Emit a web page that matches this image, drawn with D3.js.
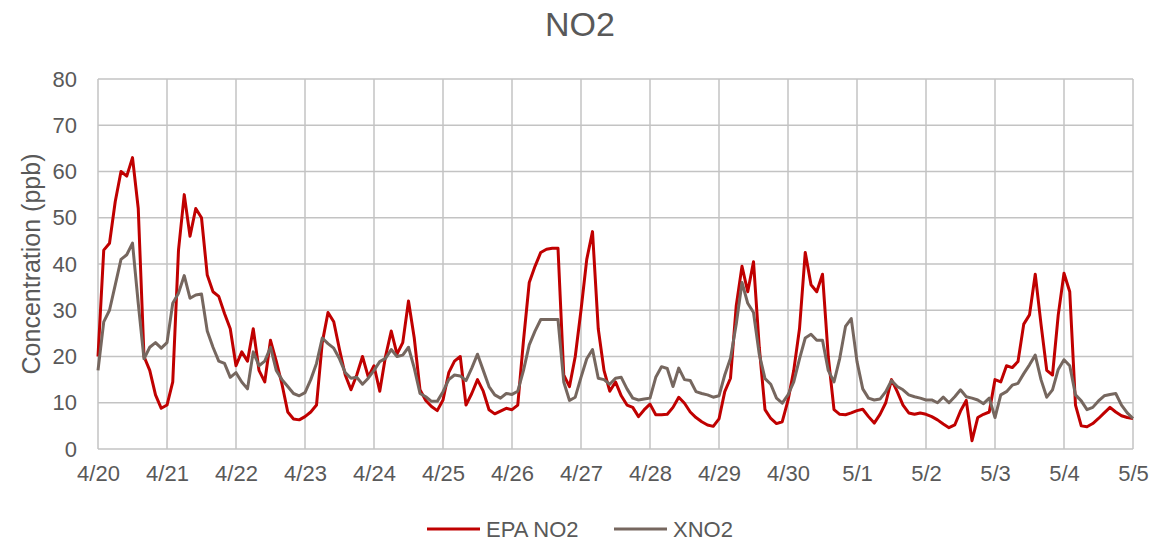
<!DOCTYPE html>
<html>
<head>
<meta charset="utf-8">
<script src="https://cdn.jsdelivr.net/npm/d3@7"></script>
<style>
  body { margin: 0; background: #fff; }
  svg text { font-family: "Liberation Sans", Arial, sans-serif; fill: #595959; }
</style>
</head>
<body>
<div id="chart"></div>
<script>
// day labels on the x axis (one every 24 h)
var dayLabels = ["4/20","4/21","4/22","4/23","4/24","4/25","4/26","4/27","4/28","4/29","4/30","5/1","5/2","5/3","5/4","5/5"];
var yTicks = [0,10,20,30,40,50,60,70,80];
var stepHours = 2; // readings every 2 hours from 4/20 00:00

// EPA NO2 (ppb)
var epaNO2 = [
  20, 43, 44.5, 53.5, 60, 59, 63, 52, 20, 17, 11.7, 8.8,
  9.5, 14.5, 43, 55, 46, 52, 50, 37.6, 34, 33, 29.3, 26,
  18, 21, 19, 26, 17, 14.5, 23.5, 19, 14, 8, 6.5, 6.3,
  7, 8, 9.5, 23, 29.5, 27.5, 21.5, 16, 12.8, 16, 20, 15.6,
  18, 12.5, 20, 25.5, 20.5, 23, 32, 24, 12.8, 10.5, 9.2, 8.3,
  10.6, 16.5, 19, 20, 9.5, 12, 15, 12.5, 8.5, 7.6, 8.2, 8.8,
  8.5, 9.5, 23.5, 36, 39.5, 42.5, 43.2, 43.4, 43.4, 16, 13.5, 20,
  30, 41, 47, 26, 17, 12.5, 14.5, 11.5, 9.5, 9, 7, 8.5,
  9.7, 7.4, 7.4, 7.5, 9, 11.2, 9.9, 8, 6.8, 5.9, 5.2, 4.9,
  6.5, 12.4, 15.3, 31, 39.5, 34, 40.5, 22, 8.5, 6.6, 5.5, 5.9,
  10.5, 17, 26, 42.5, 35.5, 34, 37.8, 20, 8.5, 7.5, 7.4, 7.8,
  8.3, 8.6, 7, 5.6, 7.5, 10, 15, 12.4, 9.5, 7.8, 7.5, 7.8,
  7.5, 7, 6.3, 5.4, 4.6, 5.2, 8.2, 10.5, 1.8, 6.8, 7.5, 8,
  15, 14.5, 18, 17.6, 18.9, 27, 29, 37.8, 27, 17, 16, 29,
  38, 34, 9.5, 5, 4.8, 5.5, 6.6, 7.8, 9, 8, 7.2, 6.8,
  6.6
];

// XNO2 (ppb)
var xNO2 = [
  17, 27.5, 30, 35.5, 41, 42, 44.5, 31.5, 19.5, 22, 23, 21.8,
  23, 31.5, 33.7, 37.5, 32.6, 33.3, 33.5, 25.5, 22, 19, 18.5, 15.5,
  16.5, 14.5, 13, 21, 18, 19, 22, 17, 15, 13.5, 12, 11.5,
  12.2, 15, 18.5, 24, 22.8, 21.8, 19.5, 16.5, 15.3, 15.5, 14, 15.3,
  17, 18.9, 19.6, 21.5, 20, 20.3, 22, 17.5, 12, 11.3, 10.3, 10.3,
  12.4, 15, 16, 15.8, 14.8, 17.5, 20.5, 17, 13.5, 11.7, 11, 12,
  11.8, 12.5, 17, 22.5, 25.5, 28, 28, 28, 28, 14.5, 10.5, 11.2,
  15.5, 19.5, 21.5, 15.3, 15, 14, 15.3, 15.5, 13, 11, 10.6, 10.8,
  11, 15.5, 17.8, 17.4, 13.5, 17.5, 15, 14.8, 12.4, 12, 11.7, 11.2,
  11.5, 16, 19.6, 27, 36, 31.5, 29.5, 20.5, 15.2, 14, 11, 9.9,
  11.7, 14.5, 19.5, 24, 24.8, 23.5, 23.5, 17, 14.5, 19.6, 26.5, 28.2,
  18.9, 13, 11, 10.6, 10.8, 12.4, 14.8, 13.5, 12.8, 11.7, 11.3, 11,
  10.6, 10.6, 10, 11.2, 10, 11.3, 12.8, 11.3, 11, 10.6, 9.8, 11,
  6.8, 11.7, 12.4, 13.8, 14.2, 16.3, 18.2, 20.3, 15, 11.2, 12.8, 17.2,
  19.3, 18, 11.7, 10.4, 8.5, 9, 10.4, 11.5, 11.8, 12, 9.5, 7.8,
  6.6
];

var seriesNames = ["EPA NO2", "XNO2"];
var seriesColors = ["#c00000", "#76675f"];

var W = 1162, H = 541;
var margin = {top: 79, right: 29, bottom: 92, left: 98};

var svg = d3.select("#chart").append("svg")
  .attr("width", W)
  .attr("height", H);

var x = d3.scaleLinear()
  .domain([0, (dayLabels.length - 1) * 24])
  .range([margin.left, W - margin.right]);

var y = d3.scaleLinear()
  .domain([0, 80])
  .range([H - margin.bottom, margin.top]);

// gridlines
svg.append("g")
  .selectAll("line.h")
  .data(yTicks)
  .enter().append("line")
  .attr("x1", x.range()[0]).attr("x2", x.range()[1])
  .attr("y1", function(d){ return y(d); })
  .attr("y2", function(d){ return y(d); })
  .style("stroke", "#c3c3c3")
  .style("stroke-width", 1.5);

svg.append("g")
  .selectAll("line.v")
  .data(dayLabels)
  .enter().append("line")
  .attr("x1", function(d, i){ return x(i * 24); })
  .attr("x2", function(d, i){ return x(i * 24); })
  .attr("y1", y(0)).attr("y2", y(80))
  .style("stroke", "#c3c3c3")
  .style("stroke-width", 1.5);

// axes (text only, lines come from the grid)
var yAxis = svg.append("g")
  .attr("transform", "translate(" + margin.left + ",0)")
  .call(d3.axisLeft(y).tickValues(yTicks).tickSize(0).tickPadding(21));
yAxis.select(".domain").remove();
yAxis.selectAll("text")
  .style("font-size", "22px")
  .style("fill", "#595959");

var xAxis = svg.append("g")
  .attr("transform", "translate(0," + y(0) + ")")
  .call(d3.axisBottom(x)
    .tickValues(d3.range(0, dayLabels.length * 24, 24))
    .tickFormat(function(d){ return dayLabels[d / 24]; })
    .tickSize(0).tickPadding(16));
xAxis.select(".domain").remove();
xAxis.selectAll("text")
  .style("font-size", "22px")
  .style("fill", "#595959");

// axis title
svg.append("text")
  .attr("transform", "translate(31," + ((y(0) + y(80)) / 2) + ") rotate(-90)")
  .attr("text-anchor", "middle")
  .attr("dy", "0.35em")
  .style("font-size", "25px")
  .text("Concentration (ppb)");

// chart title
svg.append("text")
  .attr("x", 580)
  .attr("y", 36)
  .attr("text-anchor", "middle")
  .style("font-size", "34px")
  .text("NO2");

// lines
var line = d3.line()
  .x(function(d, i){ return x(i * stepHours); })
  .y(function(d){ return y(d); });

[epaNO2, xNO2].forEach(function(vals, s){
  svg.append("path")
    .datum(vals)
    .attr("d", line)
    .style("fill", "none")
    .style("stroke", seriesColors[s])
    .style("stroke-width", 3)
    .style("stroke-linejoin", "round");
});

// legend
var legendX = [427, 614];
var leg = svg.append("g");
seriesNames.forEach(function(name, i){
  leg.append("line")
    .attr("x1", legendX[i]).attr("x2", legendX[i] + 53)
    .attr("y1", 529).attr("y2", 529)
    .style("stroke", seriesColors[i])
    .style("stroke-width", 3);
  leg.append("text")
    .attr("x", legendX[i] + 59)
    .attr("y", 529)
    .attr("dy", "0.35em")
    .style("font-size", "22px")
    .text(name);
});
</script>
</body>
</html>
